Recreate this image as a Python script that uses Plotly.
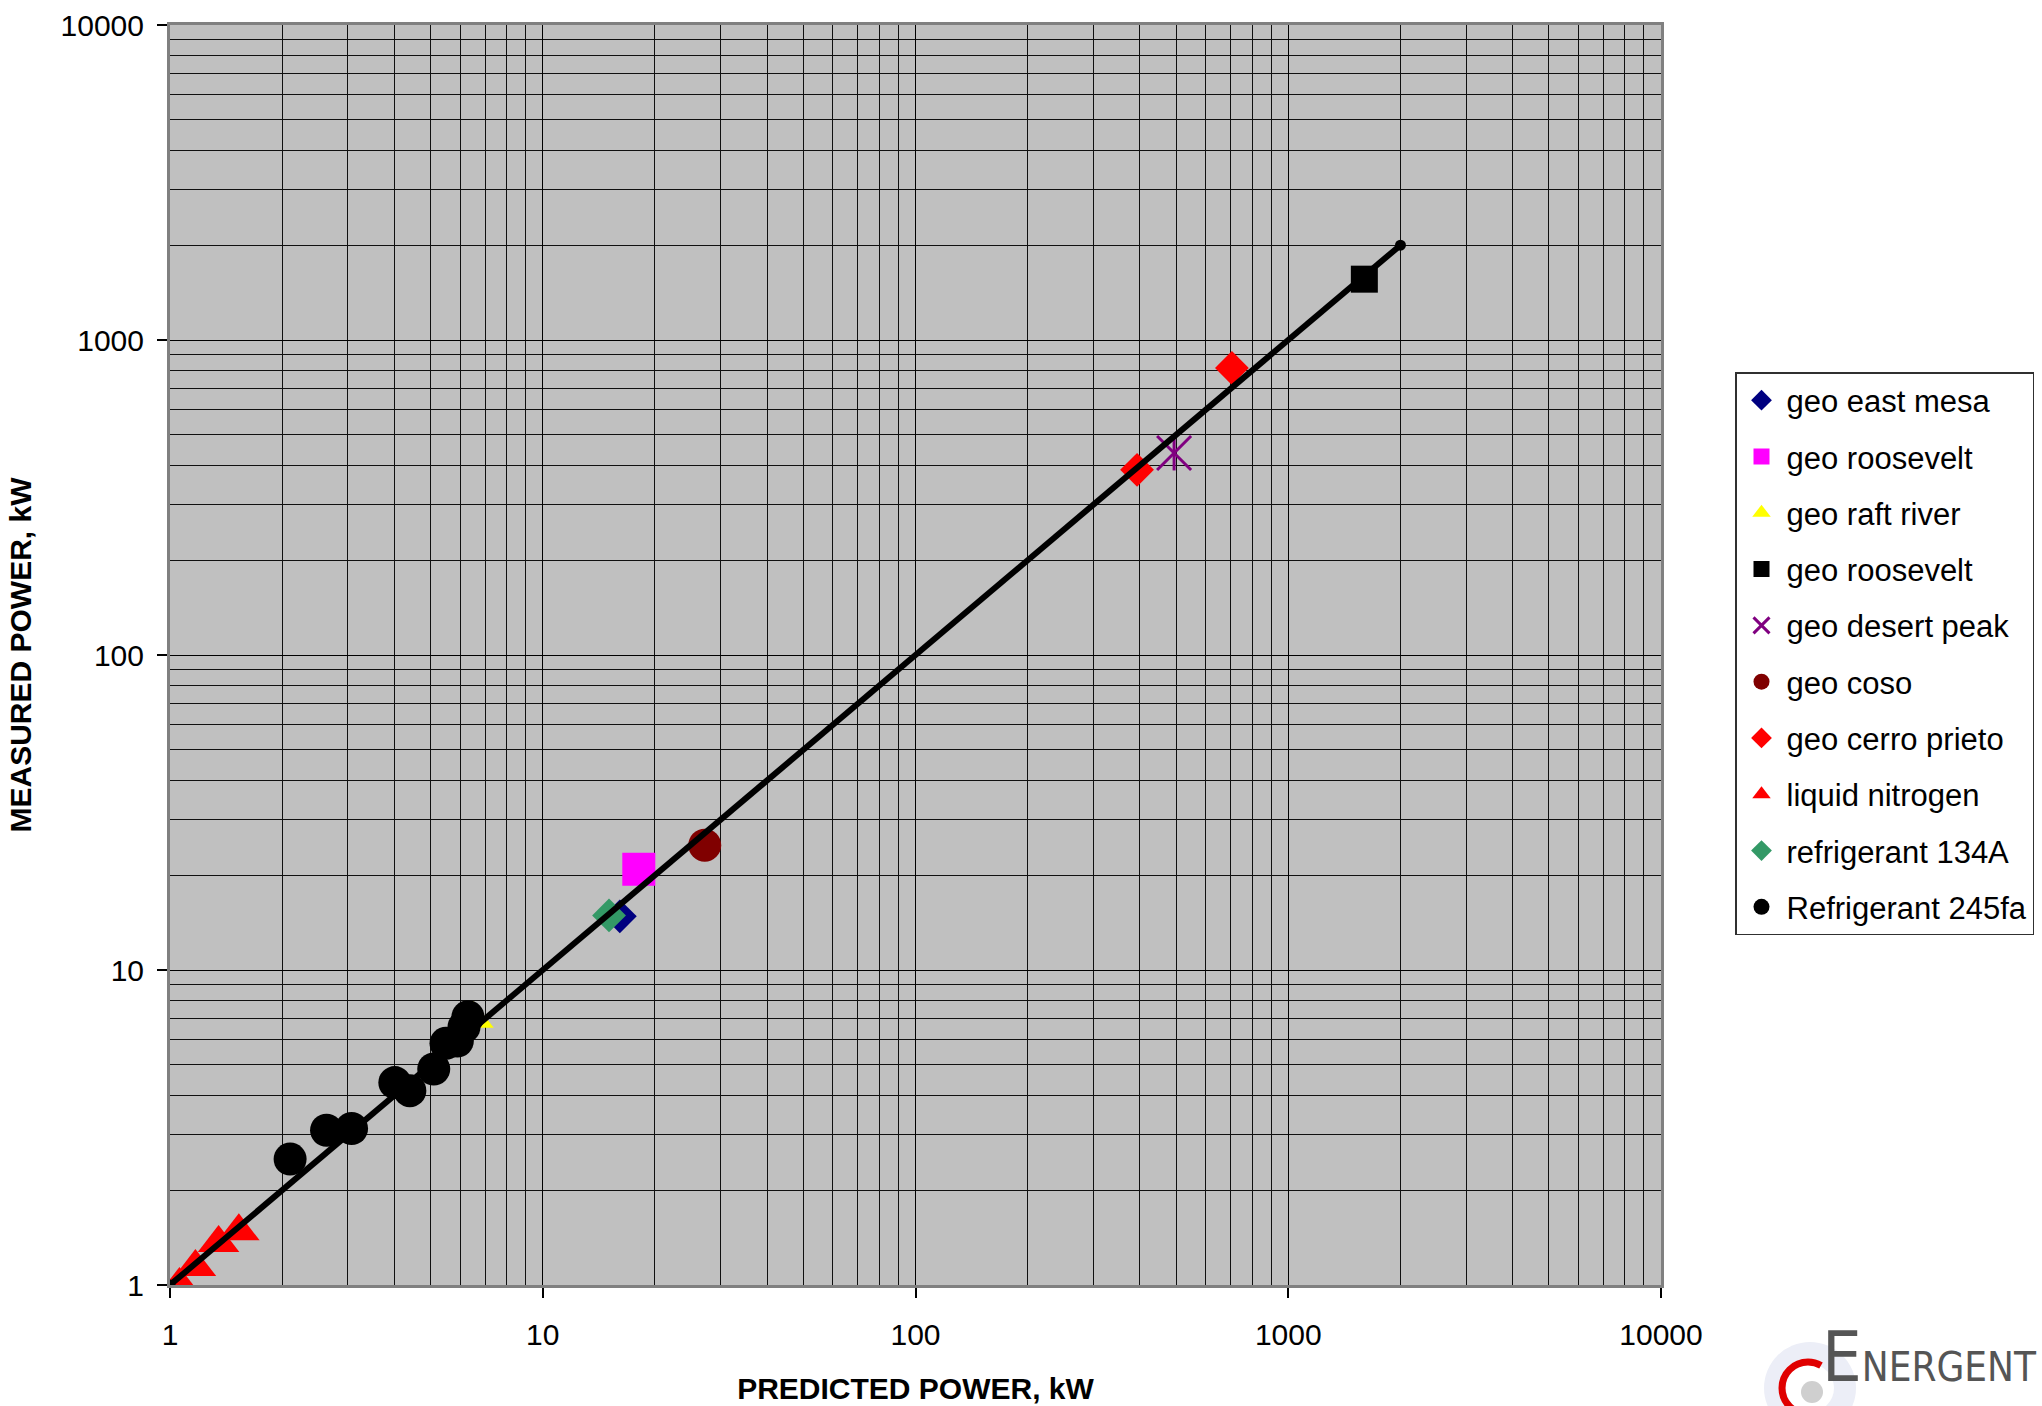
import math
import plotly.graph_objects as go

# ---------------- data ----------------
east_mesa_x = [16.1]
east_mesa_y = [14.8]

roosevelt_m_x = [18.1]
roosevelt_m_y = [20.9]

raft_river_x = [6.5]
raft_river_y = [7.0]

roosevelt_b_x = [1600]
roosevelt_b_y = [1560]

desert_peak_x = [494]
desert_peak_y = [438]

coso_x = [27.2]
coso_y = [24.9]

cerro_prieto_x = [393, 706]
cerro_prieto_y = [387, 815]

nitrogen_x = [1.06, 1.17, 1.35, 1.53]
nitrogen_y = [1.00, 1.14, 1.36, 1.48]

r134a_x = [15.06]
r134a_y = [14.9]

r245fa_x = [2.10, 2.63, 3.07, 4.01, 4.40, 5.10, 5.50, 5.90, 6.15, 6.30]
r245fa_y = [2.51, 3.10, 3.14, 4.39, 4.14, 4.85, 5.85, 5.95, 6.60, 7.10]

line_x = [1, 2000]
line_y = [1, 2000]

tick_vals = [1, 10, 100, 1000, 10000]
tick_text = ["1", "10", "100", "1000", "10000"]

# ---------------- figure ----------------
W, H = 2042, 1406
L, R, T, B = 170, 381, 25, 121
FONT = "Liberation Sans, Arial, sans-serif"

fig = go.Figure()

def add(name, x, y, symbol, color, size, group, lw=0, showlegend=True):
    fig.add_trace(go.Scatter(
        x=x, y=y, mode="markers", name=name,
        legendgroup=group, showlegend=showlegend,
        marker=dict(symbol=symbol, color=color, size=size,
                    line=dict(width=lw, color=color)),
        hoverinfo="x+y+name",
    ))

add("geo east mesa", east_mesa_x, east_mesa_y, "diamond", "#000080", 26, "g1")
add("geo roosevelt", roosevelt_m_x, roosevelt_m_y, "square", "#FF00FF", 33, "g2")
add("geo raft river", raft_river_x, raft_river_y, "triangle-up", "#FFFF00", 36, "g3")
add("geo roosevelt ", roosevelt_b_x, roosevelt_b_y, "square", "#000000", 27, "g4")
add("geo desert peak", desert_peak_x, desert_peak_y, "x-thin-open", "#800080", 34, "g5", lw=3)
add("geo desert peak", desert_peak_x, desert_peak_y, "line-ns-open", "#800080", 25, "g5", lw=3,
    showlegend=False)
add("geo coso", coso_x, coso_y, "circle", "#800000", 33, "g6")
add("geo cerro prieto", cerro_prieto_x, cerro_prieto_y, "diamond", "#FF0000", 26, "g7")
add("liquid nitrogen", nitrogen_x, nitrogen_y, "triangle-up", "#FF0000", 36, "g8")
add("refrigerant 134A", r134a_x, r134a_y, "diamond", "#339966", 26, "g9")
add("Refrigerant 245fa", r245fa_x, r245fa_y, "circle", "#000000", 33, "g10")

fig.add_trace(go.Scatter(
    x=line_x, y=line_y, mode="lines+markers", showlegend=False,
    line=dict(color="#000000", width=6),
    marker=dict(symbol="circle", size=11, color="#000000"),
    hoverinfo="skip",
))

axis_common = dict(
    type="log", range=[0, 4],
    tickmode="array", tickvals=tick_vals, ticktext=tick_text,
    ticks="outside", ticklen=10, tickwidth=1.5, tickcolor="#000000",
    showline=True, linecolor="#808080", linewidth=3, mirror=True,
    showgrid=True, gridcolor="#000000", gridwidth=1,
    minor=dict(showgrid=True, gridcolor="#101010", gridwidth=1, dtick="D1", ticks=""),
    tickfont=dict(family=FONT, size=30, color="#000000"),
    zeroline=False,
)

fig.update_xaxes(**axis_common,
                 ticklabelstandoff=11,
                 title=dict(text="<b>PREDICTED POWER, kW</b>", standoff=28,
                            font=dict(family=FONT, size=30, color="#000000")))
fig.update_yaxes(**axis_common,
                 ticklabelstandoff=7,
                 title=dict(text="<b>MEASURED POWER, kW</b>", standoff=21,
                            font=dict(family=FONT, size=30, color="#000000")))

def px2paper(px, py):
    return (px - L) / (W - L - R), (H - B - py) / (H - T - B)

# legend
lx, ly = px2paper(1735, 372)
fig.update_layout(
    width=W, height=H,
    margin=dict(l=L, r=R, t=T, b=B, autoexpand=False),
    plot_bgcolor="#C0C0C0", paper_bgcolor="#FFFFFF",
    showlegend=True,
    legend=dict(
        x=lx, y=ly, xanchor="left", yanchor="top",
        bgcolor="#FFFFFF", bordercolor="#303030", borderwidth=1.5,
        font=dict(family=FONT, size=31, color="#000000"),
        traceorder="grouped", tracegroupgap=13,
        itemsizing="trace", itemwidth=40,
    ),
)

# ---------------- logo (decorative) ----------------
def circle_shape(cx, cy, r, fill, line_color=None, lw=0):
    x0, y0 = px2paper(cx - r, cy + r)
    x1, y1 = px2paper(cx + r, cy - r)
    fig.add_shape(type="circle", xref="paper", yref="paper",
                  x0=x0, y0=y0, x1=x1, y1=y1,
                  fillcolor=fill, line=dict(color=line_color or fill, width=lw),
                  layer="above")

circle_shape(1810, 1388, 46, "#ECEEF7")
circle_shape(1810, 1388, 24, "#FFFFFF")
circle_shape(1812, 1392, 11, "#CFCFCF")

cx, cy, rr = 1808, 1388, 26
def p(a):
    return cx + rr * math.cos(math.radians(a)), cy - rr * math.sin(math.radians(a))
segs = [(60, 90), (90, 180), (180, 270)]
path = ""
for i, (a0, a1) in enumerate(segs):
    x0, y0 = p(a0)
    x3, y3 = p(a1)
    d = math.radians(a1 - a0)
    h = 4 / 3 * math.tan(d / 4) * rr
    c1 = (x0 - h * math.sin(math.radians(a0)), y0 - h * math.cos(math.radians(a0)))
    c2 = (x3 + h * math.sin(math.radians(a1)), y3 + h * math.cos(math.radians(a1)))
    P0 = px2paper(x0, y0); C1 = px2paper(*c1); C2 = px2paper(*c2); P3 = px2paper(x3, y3)
    if i == 0:
        path += f"M{P0[0]},{P0[1]} "
    path += f"C{C1[0]},{C1[1]} {C2[0]},{C2[1]} {P3[0]},{P3[1]} "
fig.add_shape(type="path", xref="paper", yref="paper", path=path,
              line=dict(color="#E00000", width=7), layer="above")

ex, ey = px2paper(1820, 1314)
fig.add_annotation(xref="paper", yref="paper", x=ex, y=ey, xanchor="left", yanchor="top",
                   text="<span style='font-size:70px'>E</span>NERGENT", showarrow=False,
                   font=dict(family="DejaVu Sans Condensed, sans-serif",
                             size=40, color="#555555"))

fig.write_html("out.html")
